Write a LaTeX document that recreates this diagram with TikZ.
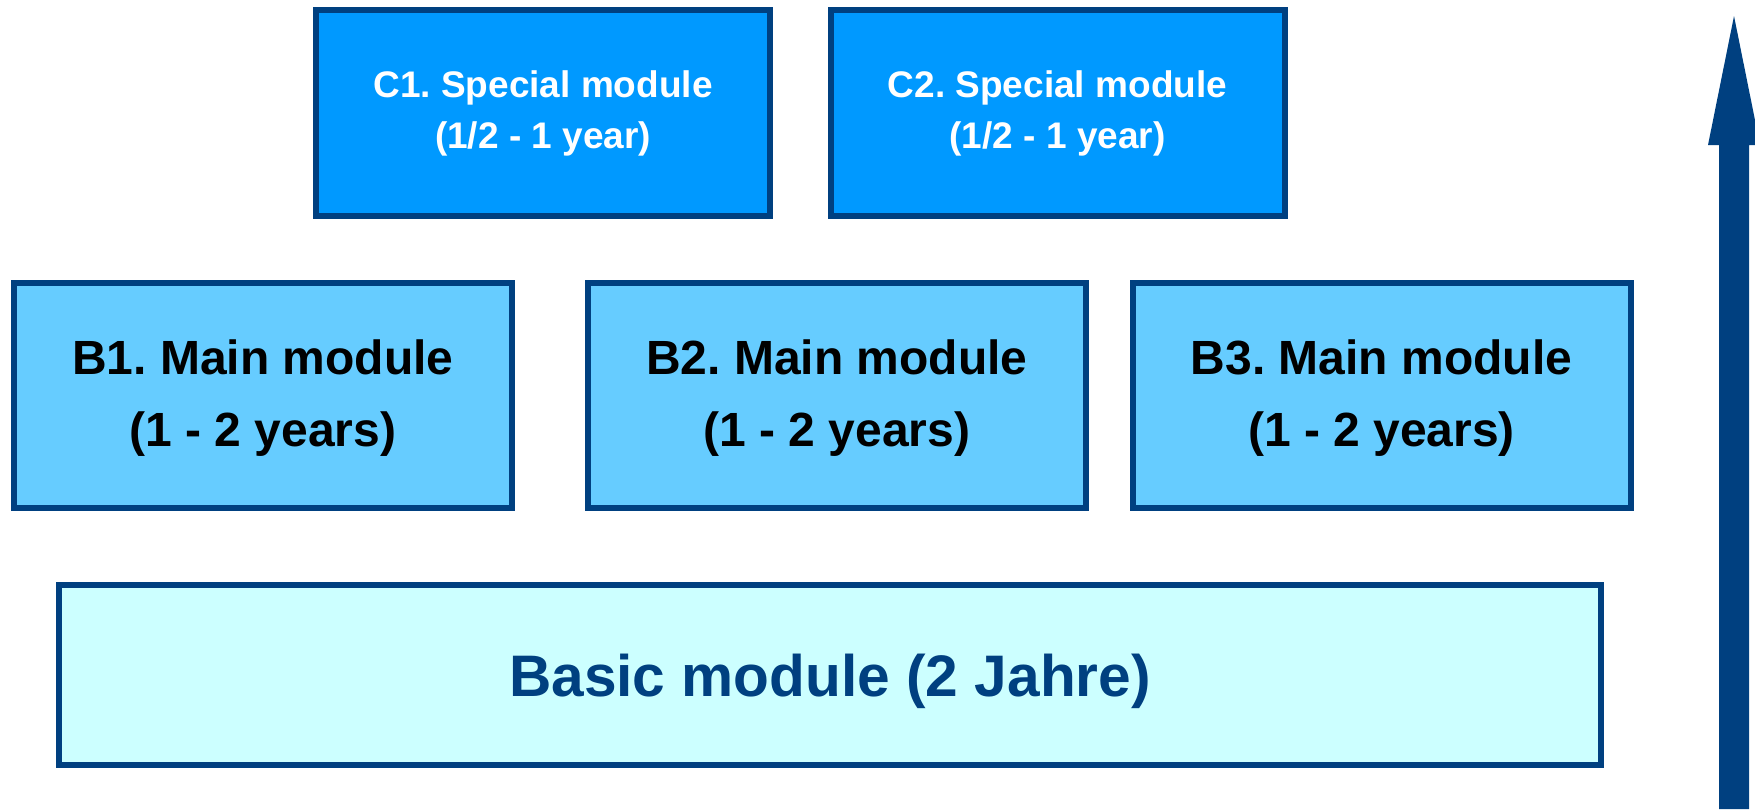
\documentclass[tikz,border=0pt]{standalone}
\usepackage{fontspec}
\setmainfont{Liberation Sans}
\frenchspacing
\definecolor{frame}{RGB}{0,64,128}
\definecolor{specialfill}{RGB}{0,153,255}
\definecolor{mainfill}{RGB}{102,204,255}
\definecolor{basicfill}{RGB}{204,255,255}
\begin{document}
\begin{tikzpicture}[x=0.5pt,y=-0.5pt,
  modbox/.style={draw=frame, line width=3pt, rectangle, inner sep=0pt, outer sep=0pt, align=center, font=\bfseries},
  special/.style={modbox, fill=specialfill, text=white, minimum width=227pt, minimum height=103pt,
    font=\bfseries\fontsize{18.5}{25.5}\selectfont},
  mainmod/.style={modbox, fill=mainfill, text=black, minimum width=249pt, minimum height=112.5pt,
    text depth=2pt, font=\bfseries\fontsize{24}{36}\selectfont},
  basicmod/.style={modbox, fill=basicfill, text=frame, minimum width=771pt, minimum height=90pt,
    text depth=0pt, font=\bfseries\fontsize{29.3}{35}\selectfont}]
  \useasboundingbox (0,0) rectangle (1755,809);

  % top row: special modules
  \node[special] (c1) at (543,113) {C1. Special module\\(1/2 - 1 year)};
  \node[special] (c2) at (1057.5,113) {C2. Special module\\(1/2 - 1 year)};

  % middle row: main modules
  \node[mainmod] (b1) at (263,395.5) {B1. Main module\\(1 - 2 years)};
  \node[mainmod] (b2) at (837,395.5) {B2. Main module\\(1 - 2 years)};
  \node[mainmod] (b3) at (1381.5,395.5) {B3. Main module\\(1 - 2 years)};

  % foundation
  \node[basicmod] (basic) at (830,675) {Basic module (2 Jahre)};

  % progression arrow on the right
  \fill[frame] (1719,809) -- (1719,145) -- (1708,145) -- (1734,16) -- (1760,145)
    -- (1749,145) -- (1749,809) -- cycle;
\end{tikzpicture}
\end{document}
